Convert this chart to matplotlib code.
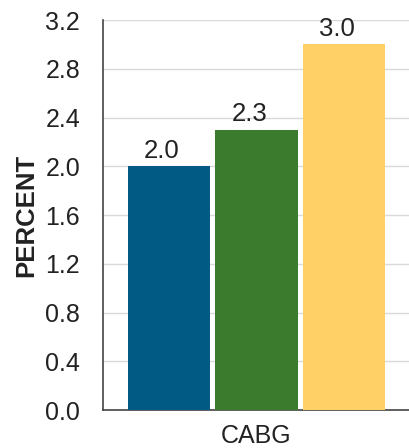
import matplotlib
matplotlib.use("Agg")
import matplotlib.pyplot as plt

plt.rcParams['font.family'] = ['Liberation Sans', 'DejaVu Sans']

categories = ["CABG"]
series_values = [2.0, 2.3, 3.0]
bar_colors = ["#005A83", "#3A7B2D", "#FFD066"]
y_ticks = [0.0, 0.4, 0.8, 1.2, 1.6, 2.0, 2.4, 2.8, 3.2]

fig = plt.figure(figsize=(4.09, 4.48), dpi=100)
ax = fig.add_axes([103 / 409, 38 / 448, 306 / 409, 390 / 448])

positions = list(range(len(series_values)))
bars = ax.bar(positions, series_values, width=0.94, color=bar_colors, zorder=3)
for pos, val in zip(positions, series_values):
    ax.annotate(f"{val:.1f}", xy=(pos, val), xytext=(-5, 2.5),
                textcoords="offset points", ha="center", va="bottom",
                fontsize=18.5, color="#222222", zorder=4)

ax.set_ylim(0, 3.2)
ax.set_xlim(-0.754, 2.743)
ax.set_yticks(y_ticks)
ax.set_yticklabels([f"{t:.1f}" for t in y_ticks])
ax.set_xticks([1])
ax.set_xticklabels(categories)
ax.tick_params(axis="both", length=0, labelsize=18, colors="#222222")
ax.tick_params(axis="y", pad=16.5)
ax.tick_params(axis="x", pad=10)
ax.yaxis.grid(True, color="#D9D9D9", linewidth=1, zorder=0)
ax.set_axisbelow(True)

for side in ("top", "right"):
    ax.spines[side].set_visible(False)
for side in ("left", "bottom"):
    ax.spines[side].set_color("#444444")
    ax.spines[side].set_linewidth(1.2)

ax.set_ylabel("PERCENT", fontsize=18.5, fontweight="bold", color="#222222", labelpad=5)

fig.savefig("out.png", dpi=100)
